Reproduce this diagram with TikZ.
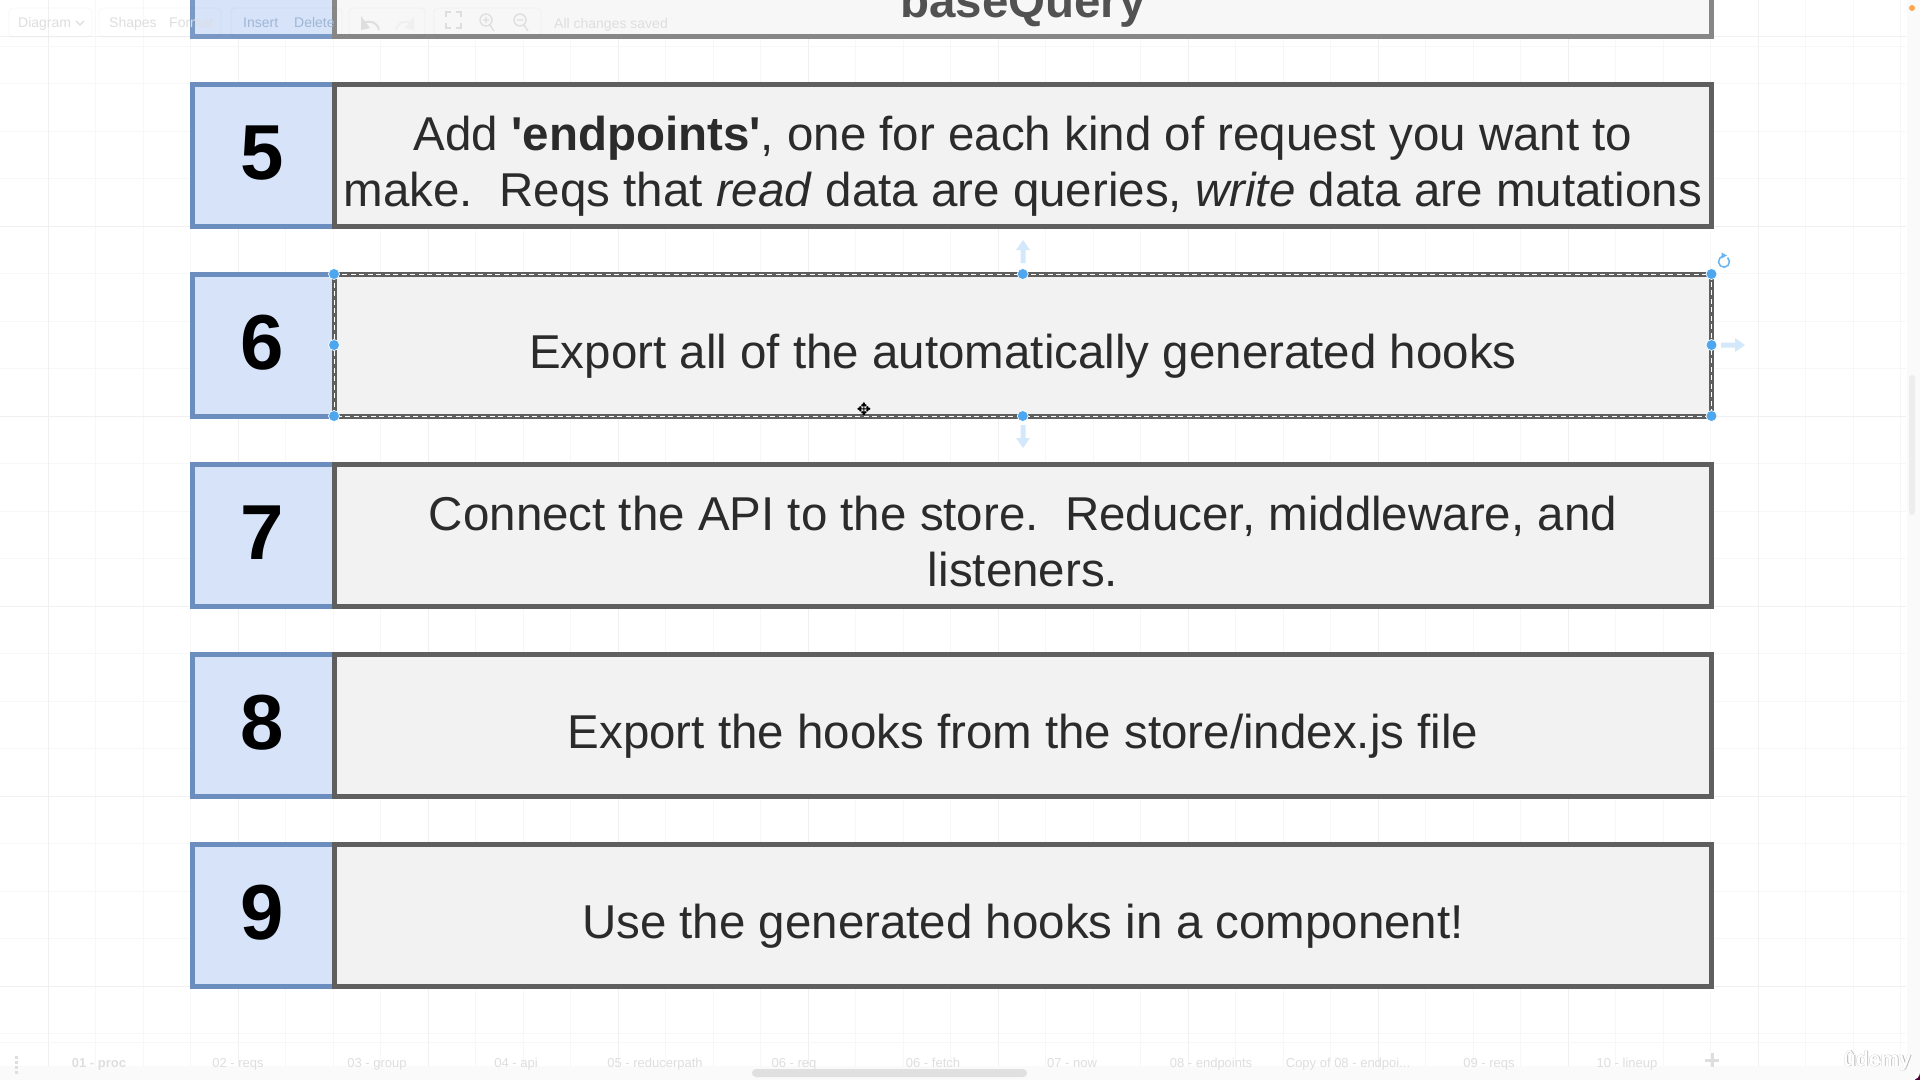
\documentclass[tikz,border=0pt]{standalone}
\usepackage{fontspec}
\setmainfont{Liberation Sans}
\definecolor{bluefill}{HTML}{D6E3F9}
\definecolor{bluestroke}{HTML}{6C8EBF}
\definecolor{greyfill}{HTML}{F2F2F2}
\definecolor{greystroke}{HTML}{5F5F5F}
\definecolor{handle}{HTML}{4DA6EE}
\definecolor{palearrow}{HTML}{D3E8FA}
\definecolor{uitext}{HTML}{DEDEDE}
\definecolor{bodytext}{HTML}{2B2B2B}
\newcommand{\bodyfont}{\fontsize{47.5}{56.7}\selectfont}
\tikzset{
  x=1pt,y=-1pt,
  numbox/.style={draw=bluestroke,fill=bluefill,line width=5pt,outer sep=0pt,inner sep=0pt,anchor=north west,minimum width=142pt,minimum height=142pt},
  textbox/.style={draw=greystroke,fill=greyfill,line width=5pt,outer sep=0pt,inner sep=0pt,anchor=north west,minimum width=1377.5pt,minimum height=142pt},
  numlabel/.style={font=\fontsize{78}{80}\selectfont\bfseries,text=black,anchor=base,inner sep=0pt},
  bodylabel/.style={font=\bodyfont,text=bodytext,anchor=base,inner sep=0pt,align=center},
  uilabel/.style={font=\fontsize{14}{16}\selectfont,text=uitext,anchor=base west,inner sep=0pt},
  tablabel/.style={font=\fontsize{13}{16}\selectfont,text=uitext,anchor=base,inner sep=0pt},
  gridmajor/.style={draw=black!6,line width=1pt},
  gridminor/.style={draw=black!3,line width=1pt},
  toolgroup/.style={draw=black,draw opacity=.03,line width=.8pt,rounded corners=4pt},
  selhandle/.style={circle,fill=handle,draw=white,line width=.7pt,minimum size=11pt,inner sep=0pt,outer sep=0pt},
  paleshape/.style={fill=palearrow,draw=none},
  udemymark/.style={font=\fontsize{21}{25}\selectfont\bfseries,inner sep=0pt,anchor=base west},
}
\begin{document}
\begin{tikzpicture}
\useasboundingbox (0,0) rectangle (1920,1080);
% window corners
\fill[black] (1880,0) rectangle (1920,40);
\fill[black!85!blue] (0,1040) rectangle (40,1080);
\fill[black!70!blue!70!red] (1880,1040) rectangle (1920,1080);
\fill[white,rounded corners=8pt] (0,-10) -- (1920,-10) -- (1920,1080) -- (-10,1080) -- cycle;
\fill[white] (0,0) rectangle (1200,100);
% side and bottom bars
\fill[black!2] (1907,0) rectangle (1920,1072);
\fill[black!2] (0,1066) rectangle (1915,1080);
% grid
\foreach \xx in {1,...,40} {\pgfmathsetmacro{\gx}{0.5+47.5*\xx}\draw[gridminor] (\gx,0) -- (\gx,1066);}
\foreach \yy in {0,...,21} {\pgfmathsetmacro{\gy}{36+47.5*\yy}\draw[gridminor] (0,\gy) -- (1906,\gy);}
\foreach \xx in {0,...,9} {\pgfmathsetmacro{\gx}{48+190*\xx}\draw[gridmajor] (\gx,0) -- (\gx,1066);}
\foreach \yy in {0,...,5} {\pgfmathsetmacro{\gy}{36+190*\yy}\draw[gridmajor] (0,\gy) -- (1906,\gy);}
\draw[gridminor] (0,46) -- (1906,46);
\draw[gridminor] (0,1042) -- (1906,1042);
% row 4 (faded, under the toolbar)
\node[numbox,draw=bluestroke!90!white,minimum height=100pt,fill=bluefill] (n4) at (192,-63.4) {};
\node[textbox,draw=greystroke!75!white,fill=black!3,minimum height=100pt] (b4) at (334,-63.4) {};
\node[bodylabel,text=black!68,font=\bodyfont\bfseries] (t4) at (1023,17) {baseQuery};
% rows
\node[numbox] (n5) at (192,84) {};
\node[textbox] (b5) at (334,84) {};
\node[numbox] (n6) at (192,274) {};
\node[textbox] (b6) at (334,274) {};
\node[numbox] (n7) at (192,464) {};
\node[textbox] (b7) at (334,464) {};
\node[numbox] (n8) at (192,654) {};
\node[textbox] (b8) at (334,654) {};
\node[numbox] (n9) at (192,844) {};
\node[textbox] (b9) at (334,844) {};
\node[numlabel] (d5) at (262,179) {5};
\node[numlabel] (d6) at (262,369) {6};
\node[numlabel] (d7) at (262,559) {7};
\node[numlabel] (d8) at (262,749) {8};
\node[numlabel] (d9) at (262,939) {9};
\node[bodylabel] (t5a) at (1023,150) {Add \textbf{\textquotesingle endpoints\textquotesingle}, one for each kind of request you want to};
\node[bodylabel] (t5b) at (1023,206.7) {make.\ \ Reqs that \textit{read} data are queries, \textit{write} data are mutations};
\node[bodylabel] (t6) at (1023,368.3) {Export all of the automatically generated hooks};
\node[bodylabel] (t7a) at (1023,530) {Connect the API to the store.\ \ Reducer, middleware, and};
\node[bodylabel] (t7b) at (1023,586.7) {listeners.};
\node[bodylabel] (t8) at (1023,748.3) {Export the hooks from the store/index.js file};
\node[bodylabel] (t9) at (1023,938.3) {Use the generated hooks in a component!};
% selection of row 6
\draw[white,line width=.9pt,dash pattern=on 5pt off 3.5pt] (b6.north west) rectangle (b6.south east);
\node[selhandle] (h1) at (b6.north west) {};
\node[selhandle] (h2) at (b6.north) {};
\node[selhandle] (h3) at (b6.north east) {};
\node[selhandle] (h4) at (b6.west) {};
\node[selhandle] (h5) at (b6.east) {};
\node[selhandle] (h6) at (b6.south west) {};
\node[selhandle] (h7) at (b6.south) {};
\node[selhandle] (h8) at (b6.south east) {};
\fill[paleshape] (1023,240) -- (1030,250) -- (1025.5,250) -- (1025.5,263) -- (1020.5,263) -- (1020.5,250) -- (1016,250) -- cycle;
\fill[paleshape] (1023,448) -- (1030,438) -- (1025.5,438) -- (1025.5,425) -- (1020.5,425) -- (1020.5,438) -- (1016,438) -- cycle;
\fill[paleshape] (1745,345) -- (1735,338) -- (1735,342.5) -- (1721,342.5) -- (1721,347.5) -- (1735,347.5) -- (1735,352) -- cycle;
\draw[handle!85!white,line width=1.5pt] (1727.5,257.5) arc[start angle=-50,end angle=250,radius=5.5];
\fill[handle!85!white] (1721.5,252.5) -- (1727,255.5) -- (1721.5,258.5) -- cycle;
% move cursor
\node[font=\fontsize{17}{17}\selectfont,text=black,inner sep=0pt] (cursor) at (864,409.5) {\fontspec{DejaVu Sans}✥};
% toolbar
\draw[toolgroup] (9,8) rectangle (92,37);
\draw[toolgroup] (99,8) rectangle (221,37);
\draw[toolgroup] (231,8) rectangle (342,37);
\draw[toolgroup] (349,8) rectangle (425,37);
\draw[toolgroup] (434,8) rectangle (541,37);
\node[uilabel] (u1) at (18,27) {Diagram};
\node[uilabel] (u2) at (109,27) {Shapes};
\node[uilabel] (u3) at (169,27) {Format};
\node[uilabel,text=bluestroke!65!white] (u4) at (243,27) {Insert};
\node[uilabel,text=bluestroke!65!white] (u5) at (294,27) {Delete};
\node[uilabel] (u6) at (554,28) {All changes saved};
\draw[uitext,line width=1.2pt] (76,21) -- (80,25) -- (84,21);
% undo and redo
\draw[uitext,line width=2pt] (379,30) .. controls (377,22) and (371,20) .. (363,23);
\fill[uitext] (361,16) -- (361,30) -- (370,28) -- cycle;
\draw[black!6,line width=2pt] (396,30) .. controls (398,22) and (404,20) .. (412,23);
\fill[black!6] (414,16) -- (414,30) -- (405,28) -- cycle;
% fit and zoom icons
\draw[uitext,line width=1.6pt] (446,17) -- (446,12) -- (451,12) (456,12) -- (461,12) -- (461,17);
\draw[uitext,line width=1.6pt] (446,23) -- (446,28) -- (451,28) (456,28) -- (461,28) -- (461,23);
\draw[uitext,line width=1.3pt] (486,20) circle[radius=6pt] (490,25) -- (494,31) (483,20) -- (489,20) (486,17) -- (486,23);
\draw[uitext,line width=1.3pt] (520,20) circle[radius=6pt] (524,25) -- (528,31) (517,20) -- (523,20);
% tabs
\node[tablabel,font=\fontsize{13}{16}\selectfont\bfseries] (tab1) at (99,1067) {01 - proc};
\node[tablabel] (tab2) at (238,1067) {02 - reqs};
\node[tablabel] (tab3) at (377,1067) {03 - group};
\node[tablabel] (tab4) at (516,1067) {04 - api};
\node[tablabel] (tab5) at (655,1067) {05 - reducerpath};
\node[tablabel] (tab6) at (794,1067) {06 - req};
\node[tablabel] (tab7) at (933,1067) {06 - fetch};
\node[tablabel] (tab8) at (1072,1067) {07 - now};
\node[tablabel] (tab9) at (1211,1067) {08 - endpoints};
\node[tablabel] (tab10) at (1348,1067) {Copy of 08 - endpoi...};
\node[tablabel] (tab11) at (1489,1067) {09 - reqs};
\node[tablabel] (tab12) at (1627,1067) {10 - lineup};
\draw[uitext,line width=3pt] (1712,1053) -- (1712,1067) (1705,1060) -- (1719,1060);
\foreach \dy in {1056,1061,1066,1071} {\fill[uitext] (14.5,\dy) rectangle (17.5,\dy+3);}
% scrollbars
\fill[black!12,rounded corners=4pt] (752,1069) rectangle (1027,1077);
\fill[black!7,rounded corners=3pt] (1909,375) rectangle (1915,515);
% marks
\fill[orange!70!white] (1912,8) circle[radius=3pt];
\node[udemymark,text=black!30] (udemyb) at (1843.8,1066.8) {ûdemy};
\node[udemymark,text=black!18] (udemyc) at (1842.6,1066.4) {ûdemy};
\node[udemymark,text=white] (udemy) at (1843,1066) {ûdemy};
\end{tikzpicture}
\end{document}
